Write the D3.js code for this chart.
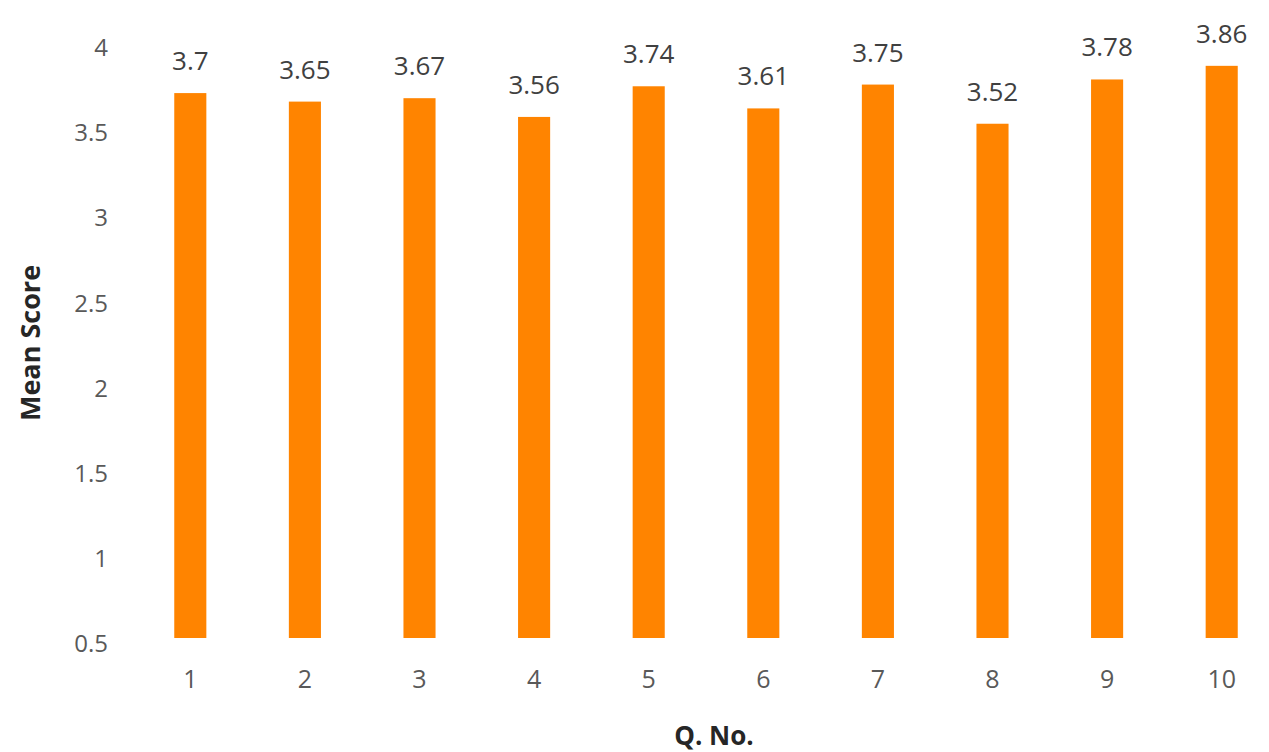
<!DOCTYPE html>
<html>
<head>
<meta charset="utf-8">
<script src="https://cdn.jsdelivr.net/npm/d3@7"></script>
<style>
  body { margin: 0; background: #fff; }
  text { font-family: "Open Sans", "Noto Sans", sans-serif; }
</style>
</head>
<body>
<div id="main"></div>
<script>
const ctx = {
    CHART_WIDTH: 1269,
    CHART_HEIGHT: 752
};

const questions = ["1", "2", "3", "4", "5", "6", "7", "8", "9", "10"];
const meanScores = [3.7, 3.65, 3.67, 3.56, 3.74, 3.61, 3.75, 3.52, 3.78, 3.86];
const yTicks = [0.5, 1, 1.5, 2, 2.5, 3, 3.5, 4];

function createViz(){
    let svgEl = d3.select("#main").append("svg")
        .attr("width", ctx.CHART_WIDTH)
        .attr("height", ctx.CHART_HEIGHT);
    let g = svgEl.append("g").attr("id", "mainG");

    ctx.xScale = d3.scaleBand().domain(questions)
                               .range([133, 1279])
                               .paddingInner(0.72)
                               .paddingOuter(0.36);
    ctx.yScale = d3.scaleLinear().domain([0.5, 4])
                                 .range([638, 42]);

    // y axis, labels only
    let yAx = g.append("g")
      .attr("transform", "translate(108,6)")
      .call(d3.axisLeft(ctx.yScale).tickValues(yTicks).tickSize(0).tickPadding(0)
              .tickFormat(d3.format("")));
    yAx.select(".domain").remove();
    yAx.selectAll("text")
      .style("font-size", "24px")
      .style("fill", "#595959")
      .style("font-family", "'Open Sans', sans-serif");

    // x axis, labels only
    let xAx = g.append("g")
      .attr("transform", "translate(0,670)")
      .call(d3.axisBottom(ctx.xScale).tickSize(0).tickPadding(0));
    xAx.select(".domain").remove();
    xAx.selectAll("text")
      .style("font-size", "25px")
      .style("fill", "#595959")
      .style("font-family", "'Open Sans', sans-serif");

    let data = questions.map((q, i) => ({q: q, v: meanScores[i]}));

    g.selectAll("rect.bar").data(data).enter().append("rect")
      .attr("class", "bar")
      .attr("x", d => ctx.xScale(d.q))
      .attr("width", ctx.xScale.bandwidth())
      .attr("y", d => ctx.yScale(d.v))
      .attr("height", d => ctx.yScale(0.5) - ctx.yScale(d.v))
      .attr("fill", "#FF8400");

    g.selectAll("text.val").data(data).enter().append("text")
      .attr("class", "val")
      .attr("x", d => ctx.xScale(d.q) + ctx.xScale.bandwidth()/2)
      .attr("y", d => ctx.yScale(d.v) - 23)
      .style("text-anchor", "middle")
      .style("font-size", "26px")
      .style("fill", "#404040")
      .text(d => d.v);

    g.append("text")
      .attr("x", 714)
      .attr("y", 745)
      .style("text-anchor", "middle")
      .style("font-size", "26px")
      .style("font-weight", "bold")
      .style("fill", "#262626")
      .text("Q. No.");

    g.append("text")
      .attr("transform", "translate(40,343) rotate(-90)")
      .style("text-anchor", "middle")
      .style("font-size", "27px")
      .style("font-weight", "bold")
      .style("fill", "#262626")
      .text("Mean Score");
}

createViz();
</script>
</body>
</html>
